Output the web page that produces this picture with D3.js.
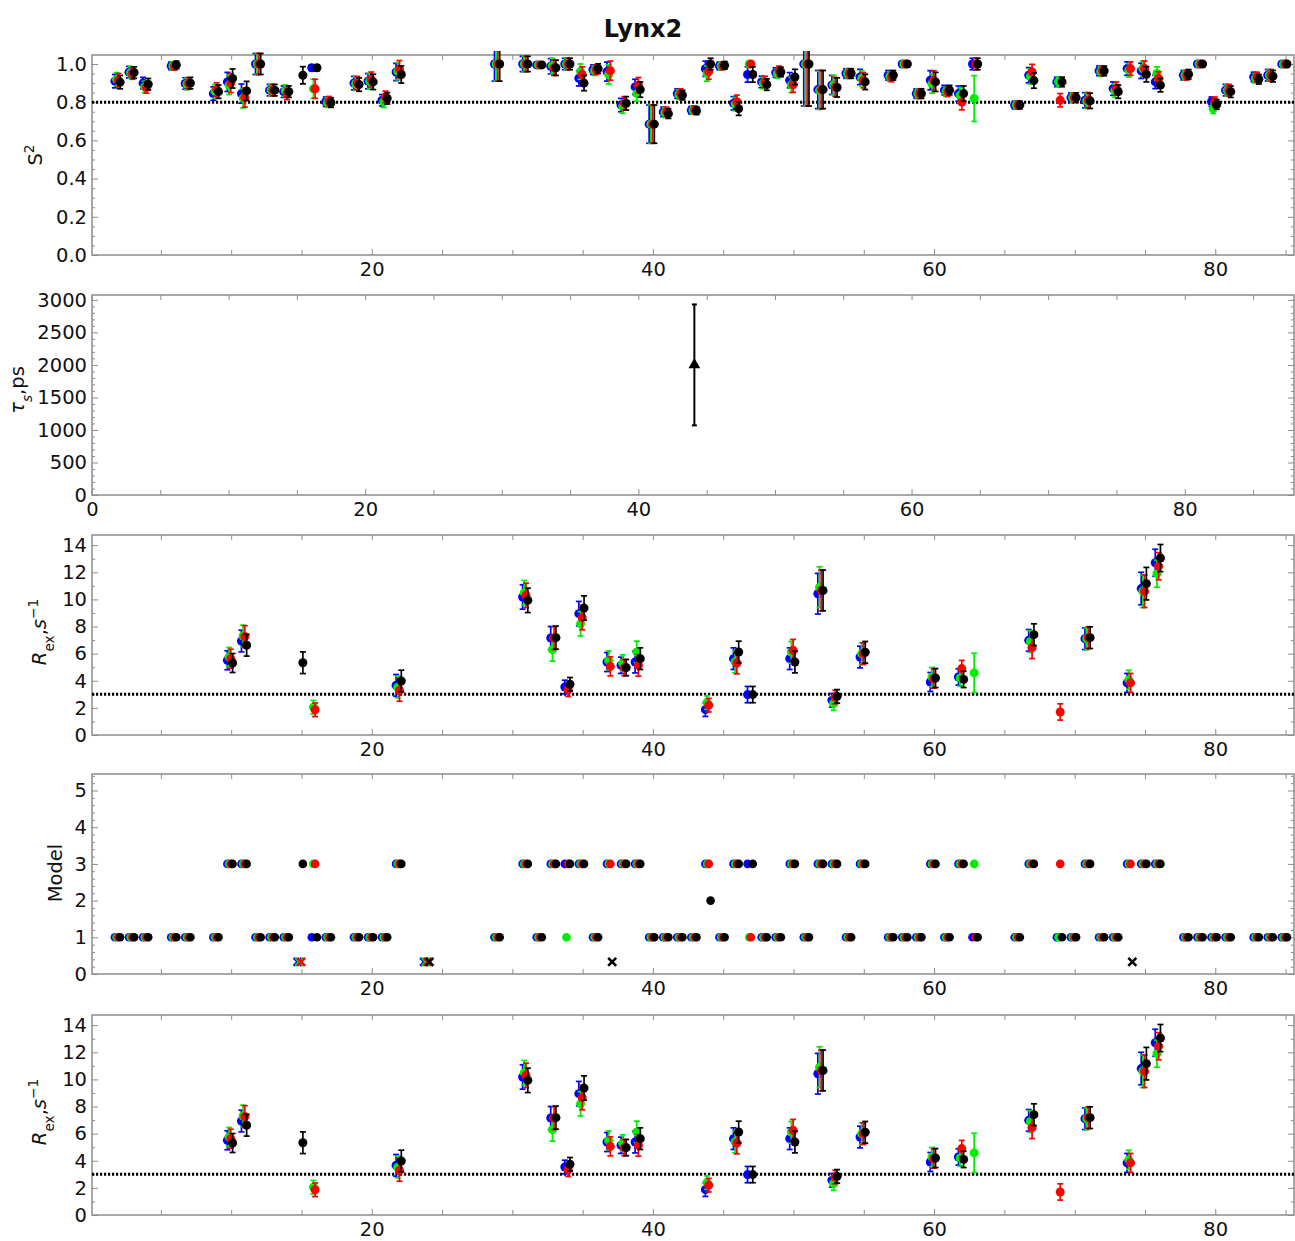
<!DOCTYPE html>
<html>
<head>
<meta charset="utf-8">
<script src="https://cdn.jsdelivr.net/npm/d3@7"></script>
<style>
  body { margin: 0; background: #fff; }
  svg { display: block; }
  text { font-family: "DejaVu Sans", sans-serif; }
</style>
</head>
<body>
<svg id="chart" width="1295" height="1241"></svg>
<script>
// Residue numbers that have a fit in at least one of the four runs
const residues = [2,3,4,6,7,9,10,11,12,13,14,15,16,17,19,20,21,22,24,29,31,32,33,34,35,36,37,38,39,40,41,42,43,44,45,46,47,48,49,50,51,52,53,54,55,57,58,59,60,61,62,63,66,67,69,70,71,72,73,74,75,76,78,79,80,81,83,84,85];

// Order parameter S^2 per run (null = no value)
const s2Blue  = [0.91,0.957,0.90,0.99,0.898,0.845,0.906,0.845,1.0,0.863,0.855,null,0.98,0.802,0.90,0.91,0.81,0.958,null,1.0,1.0,0.995,0.988,1.0,0.925,0.97,0.96,0.785,0.88,0.685,0.749,0.845,0.758,0.975,0.99,0.794,0.945,0.906,0.955,0.915,1.0,0.866,0.89,0.95,0.932,0.941,1.0,0.845,0.915,0.863,0.845,1.0,0.785,0.941,0.906,0.824,0.81,0.964,0.871,0.976,0.964,0.906,0.941,1.0,0.802,0.863,0.932,0.941,1.0];
const s2Green = [0.92,0.955,0.88,0.99,0.895,0.857,0.89,0.82,1.0,0.863,0.86,null,0.87,0.798,0.897,0.91,0.802,0.962,null,1.0,1.0,0.995,0.99,1.0,0.96,0.965,0.945,0.777,0.845,0.685,0.745,0.84,0.758,0.95,0.99,0.79,1.0,0.90,0.95,0.89,1.0,0.862,0.89,0.95,0.925,0.935,1.0,0.845,0.897,0.855,0.836,0.819,0.785,0.935,0.906,0.824,0.807,0.96,0.86,0.967,0.976,0.95,0.941,1.0,0.766,0.863,0.925,0.941,1.0];
const s2Red   = [0.915,0.95,0.877,0.988,0.898,0.866,0.90,0.824,1.0,0.863,0.843,null,0.87,0.805,0.90,0.918,0.828,0.973,null,1.0,1.0,0.995,0.98,1.0,0.945,0.97,0.965,0.794,0.889,0.685,0.749,0.845,0.76,0.96,0.99,0.802,1.0,0.906,0.964,0.892,1.0,0.866,0.88,0.95,0.915,0.932,1.0,0.845,0.915,0.855,0.80,1.0,0.785,0.958,0.81,0.824,0.81,0.964,0.871,0.976,0.976,0.924,0.941,1.0,0.802,0.863,0.932,0.941,1.0];
const s2Black = [0.905,0.955,0.894,0.995,0.90,0.855,0.924,0.859,1.0,0.863,0.855,0.941,0.98,0.798,0.892,0.906,0.82,0.945,null,1.0,1.0,0.995,0.98,1.0,0.90,0.976,null,0.794,0.866,0.685,0.74,0.837,0.755,1.0,0.993,0.766,0.945,0.892,0.958,0.932,1.0,0.866,0.877,0.95,0.906,0.941,1.0,0.845,0.906,0.863,0.845,1.0,0.785,0.913,0.906,0.824,0.807,0.964,0.855,null,0.946,0.889,0.946,1.0,0.788,0.855,0.92,0.936,1.0];

// S^2 uncertainties per run
const s2ErrBlue  = [0.035,0.03,0.03,0.02,0.03,0.035,0.05,0.05,0.055,0.03,0.03,0.045,0.015,0.025,0.035,0.04,0.03,0.045,null,0.09,0.04,0.012,0.04,0.03,0.04,0.025,0.05,0.035,0.04,0.1,0.025,0.025,0.02,0.04,0.02,0.035,0.04,0.03,0.025,0.04,0.22,0.1,0.05,0.025,0.04,0.025,0.01,0.025,0.05,0.025,0.04,0.03,0.02,0.04,0.025,0.025,0.04,0.025,0.035,0.035,0.04,0.035,0.025,0.01,0.025,0.03,0.025,0.03,0.01];
const s2ErrGreen = [0.035,0.03,0.03,0.02,0.03,0.035,0.05,0.05,0.055,0.03,0.03,0.045,0.05,0.025,0.035,0.04,0.03,0.045,null,0.09,0.04,0.012,0.04,0.03,0.04,0.025,0.05,0.035,0.04,0.1,0.025,0.025,0.02,0.04,0.02,0.035,0.01,0.03,0.025,0.04,0.22,0.1,0.05,0.025,0.04,0.025,0.01,0.025,0.05,0.025,0.04,0.12,0.02,0.04,0.025,0.025,0.04,0.025,0.035,0.035,0.04,0.035,0.025,0.01,0.025,0.03,0.025,0.03,0.01];
const s2ErrRed   = [0.035,0.03,0.03,0.02,0.03,0.035,0.05,0.05,0.055,0.03,0.03,0.045,0.05,0.025,0.035,0.04,0.03,0.045,null,0.09,0.04,0.012,0.04,0.03,0.04,0.025,0.05,0.035,0.04,0.1,0.025,0.025,0.02,0.04,0.02,0.035,0.01,0.03,0.025,0.04,0.22,0.1,0.05,0.025,0.04,0.025,0.01,0.025,0.05,0.025,0.04,0.03,0.02,0.04,0.035,0.025,0.04,0.025,0.035,0.035,0.04,0.035,0.025,0.01,0.025,0.03,0.025,0.03,0.01];
const s2ErrBlack = [0.035,0.03,0.03,0.02,0.03,0.035,0.05,0.05,0.055,0.03,0.03,0.045,0.015,0.025,0.035,0.04,0.03,0.045,null,0.09,0.04,0.012,0.04,0.03,0.04,0.025,0.05,0.035,0.04,0.1,0.025,0.025,0.02,0.03,0.02,0.035,0.04,0.03,0.025,0.04,0.22,0.1,0.05,0.025,0.04,0.025,0.01,0.025,0.05,0.025,0.04,0.03,0.02,0.04,0.025,0.025,0.04,0.025,0.035,0.035,0.04,0.035,0.025,0.01,0.025,0.03,0.025,0.03,0.01];

// Internal motion time tau_s (ps), only one residue needs it
const tauResidues = [44];
const tauBlack    = [2000];
const tauErrBlack = [930];

// Exchange contribution R_ex (s^-1)
const rexResidues = [10,11,15,16,22,31,33,34,35,37,38,39,44,46,47,50,52,53,55,60,62,63,67,69,71,74,75,76];
const rexBlue  = [5.51,6.93,null,null,3.66,10.18,7.15,3.54,8.95,5.38,5.14,5.38,1.87,5.63,2.98,5.63,10.42,2.56,5.75,3.91,4.28,null,6.98,null,7.1,3.84,10.8,12.7];
const rexGreen = [5.75,7.3,null,2.05,3.53,10.5,6.3,null,8.2,5.5,5.31,6.12,2.39,5.4,null,6.1,10.9,2.32,6.0,4.28,4.2,4.58,6.9,null,7.1,4.07,10.6,11.9];
const rexRed   = [5.63,7.26,null,1.86,3.29,10.3,7.15,3.34,8.66,5.06,4.97,5.14,2.2,5.31,null,6.25,10.66,2.8,6.0,4.15,4.9,null,6.44,1.7,7.18,3.84,10.6,12.45];
const rexBlack = [5.31,6.62,5.33,null,3.98,9.93,7.18,3.74,9.36,null,4.97,5.63,null,6.12,2.98,5.38,10.66,2.85,6.1,4.2,4.1,null,7.4,null,7.18,null,11.16,13.05];
const rexErr   = [0.7,0.8,0.8,0.5,0.8,0.9,0.85,0.5,0.9,0.7,0.6,0.8,0.5,0.8,0.6,0.8,1.5,0.5,0.8,0.7,0.6,1.45,0.8,0.6,0.8,0.7,1.2,1.0];

// Selected model-free model per run (0 = no acceptable model)
const modelBlue  = [1,1,1,1,1,1, 3,3, 1,1,1, 0, 1, 1,1,1,1, 3, 0, 1, 3, 1, 3, 3, 3, 1, 3, 3, 3, 1,1,1,1, 3, 1, 3, 3, 1, 1, 3, 1, 3, 3, 1, 3, 1,1,1, 3, 1, 3, 1, 1, 3, 1, 1, 3, 1, 1, 3, 3, 3, 1,1,1,1,1,1,1];
const modelGreen = [1,1,1,1,1,1, 3,3, 1,1,1, 0, 3, 1,1,1,1, 3, 0, 1, 3, 1, 3, 1, 3, 1, 3, 3, 3, 1,1,1,1, 3, 1, 3, 1, 1, 1, 3, 1, 3, 3, 1, 3, 1,1,1, 3, 1, 3, 3, 1, 3, 1, 1, 3, 1, 1, 3, 3, 3, 1,1,1,1,1,1,1];
const modelRed   = [1,1,1,1,1,1, 3,3, 1,1,1, 0, 3, 1,1,1,1, 3, 0, 1, 3, 1, 3, 3, 3, 1, 3, 3, 3, 1,1,1,1, 3, 1, 3, 1, 1, 1, 3, 1, 3, 3, 1, 3, 1,1,1, 3, 1, 3, 1, 1, 3, 3, 1, 3, 1, 1, 3, 3, 3, 1,1,1,1,1,1,1];
const modelBlack = [1,1,1,1,1,1, 3,3, 1,1,1, 3, 1, 1,1,1,1, 3, 0, 1, 3, 1, 3, 3, 3, 1, 0, 3, 3, 1,1,1,1, 2, 1, 3, 3, 1, 1, 3, 1, 3, 3, 1, 3, 1,1,1, 3, 1, 3, 1, 1, 3, 1, 1, 3, 1, 1, 0, 3, 3, 1,1,1,1,1,1,1];

// Axis tick values and reference lines
const s2Ticks    = [0, 0.2, 0.4, 0.6, 0.8, 1.0];
const tauTicks   = [0, 500, 1000, 1500, 2000, 2500, 3000];
const rexTicks   = [0, 2, 4, 6, 8, 10, 12, 14];
const modelTicks = [0, 1, 2, 3, 4, 5];
const residueTicks = [20, 40, 60, 80];
const tauResidueTicks = [0, 20, 40, 60, 80];
const s2Cutoff  = 0.8;
const rexCutoff = 3;

// ---------------------------------------------------------------
const svg = d3.select('#chart');
const LEFT = 92, RIGHT = 1294, PH = 200;
const panelTops = [55, 295, 535, 774, 1015];
const FRAME = '#8c8c8c';
const FS = 19.5;

const xRes = d3.scaleLinear().domain([0.1, 85.6]).range([LEFT, RIGHT]);
const xTau = d3.scaleLinear().domain([0, 88]).range([LEFT, RIGHT]);
const yS2 = d3.scaleLinear().domain([0, 1.047]).range([panelTops[0] + PH, panelTops[0]]);
const yTau = d3.scaleLinear().domain([0, 3075]).range([panelTops[1] + PH, panelTops[1]]);
const yRex1 = d3.scaleLinear().domain([0, 14.75]).range([panelTops[2] + PH, panelTops[2]]);
const yModel = d3.scaleLinear().domain([0, 5.45]).range([panelTops[3] + PH, panelTops[3]]);
const yRex2 = d3.scaleLinear().domain([0, 14.75]).range([panelTops[4] + PH, panelTops[4]]);

const runs = [
  { color: '#0000ff', dx: -0.27, s2: s2Blue,  s2Err: s2ErrBlue,  rex: rexBlue,  model: modelBlue },
  { color: '#00ee00', dx: -0.15, s2: s2Green, s2Err: s2ErrGreen, rex: rexGreen, model: modelGreen },
  { color: '#ff0000', dx: -0.03, s2: s2Red,   s2Err: s2ErrRed,   rex: rexRed,   model: modelRed },
  { color: '#000000', dx:  0.10, s2: s2Black, s2Err: s2ErrBlack, rex: rexBlack, model: modelBlack }
];

// clip regions: each plot box, with a little headroom above the frame
const defs = svg.append('defs');
panelTops.forEach((t, i) => {
  defs.append('clipPath').attr('id', 'clip' + i).append('rect')
    .attr('x', LEFT - 10).attr('y', t - 4).attr('width', RIGHT - LEFT + 20).attr('height', PH + 4);
});

function range(a, b, step) {
  const out = [];
  for (let i = Math.round(a / step); i * step <= b + 1e-9; i++) out.push(+(i * step).toFixed(4));
  return out;
}

function styleAxis(g) {
  g.select('.domain').remove();
  g.selectAll('.tick line').attr('stroke', FRAME).attr('stroke-width', 1);
  g.selectAll('.tick text').attr('fill', '#111').attr('font-size', FS)
    .attr('font-family', '"DejaVu Sans", sans-serif');
}

function frameAxes(x, y, o) {
  const [x0, x1] = x.range();
  const [yb, yt] = y.range();
  const g = svg.append('g');
  const xMinor = o.xMinor.filter(v => !o.xMajor.includes(v));
  const yMinor = o.yMinor.filter(v => !o.yMajor.some(m => Math.abs(m - v) < 1e-6));
  // bottom
  g.append('g').attr('transform', `translate(0,${yb})`)
    .call(d3.axisBottom(x).tickValues(o.xMajor).tickSize(-6).tickPadding(7).tickFormat(d3.format('d'))).call(styleAxis);
  g.append('g').attr('transform', `translate(0,${yb})`)
    .call(d3.axisBottom(x).tickValues(xMinor).tickSize(-5).tickFormat('')).call(styleAxis);
  // top
  g.append('g').attr('transform', `translate(0,${yt})`)
    .call(d3.axisTop(x).tickValues(o.xMajor.concat(xMinor)).tickSize(-5).tickFormat('')).call(styleAxis);
  // left
  g.append('g').attr('transform', `translate(${x0},0)`)
    .call(d3.axisLeft(y).tickValues(o.yMajor).tickSize(-6).tickPadding(5).tickFormat(o.yFmt)).call(styleAxis);
  g.append('g').attr('transform', `translate(${x0},0)`)
    .call(d3.axisLeft(y).tickValues(yMinor).tickSize(-3).tickFormat('')).call(styleAxis);
  // right
  g.append('g').attr('transform', `translate(${x1},0)`)
    .call(d3.axisRight(y).tickValues(o.yMajor).tickSize(-6).tickFormat('')).call(styleAxis);
  g.append('g').attr('transform', `translate(${x1},0)`)
    .call(d3.axisRight(y).tickValues(yMinor).tickSize(-3).tickFormat('')).call(styleAxis);
  // frame
  g.append('rect').attr('x', x0).attr('y', yt).attr('width', x1 - x0).attr('height', yb - yt)
    .attr('fill', 'none').attr('stroke', FRAME).attr('stroke-width', 1.5);
}

function cutoffLine(x, y, v) {
  const [x0, x1] = x.range();
  svg.append('line').attr('x1', x0).attr('x2', x1).attr('y1', y(v)).attr('y2', y(v))
    .attr('stroke', '#000').attr('stroke-width', 3).attr('stroke-dasharray', '2.2,1.8');
}

function errorPoints(x, y, xs, vals, errs, color, dx, r, clipId) {
  const pts = xs.map((res, i) => ({ res, v: vals[i], e: errs[i] })).filter(d => d.v != null);
  const g = svg.append('g').attr('clip-path', `url(#${clipId})`);
  const cx = d => x(d.res + dx);
  g.selectAll('line.bar').data(pts).join('line')
    .attr('x1', cx).attr('x2', cx)
    .attr('y1', d => y(d.v - d.e)).attr('y2', d => y(d.v + d.e))
    .attr('stroke', color).attr('stroke-width', 1.7);
  ['lo', 'hi'].forEach(side => {
    g.selectAll('line.cap' + side).data(pts).join('line')
      .attr('x1', d => cx(d) - 3).attr('x2', d => cx(d) + 3)
      .attr('y1', d => y(side === 'lo' ? d.v - d.e : d.v + d.e))
      .attr('y2', d => y(side === 'lo' ? d.v - d.e : d.v + d.e))
      .attr('stroke', color).attr('stroke-width', 1.7);
  });
  g.selectAll('circle').data(pts).join('circle')
    .attr('cx', cx).attr('cy', d => y(d.v)).attr('r', r).attr('fill', color);
}

// ----- Title
svg.append('text').attr('x', 643).attr('y', 37).attr('text-anchor', 'middle')
  .attr('font-size', 24).attr('font-weight', 'bold').attr('fill', '#111').text('Lynx2');

// ----- Panel 1: S^2
frameAxes(xRes, yS2, { xMajor: residueTicks, xMinor: range(5, 85, 5), yMajor: s2Ticks, yMinor: range(0, 1.0, 0.05), yFmt: d3.format('.1f') });
cutoffLine(xRes, yS2, s2Cutoff);
runs.forEach(s => errorPoints(xRes, yS2, residues, s.s2, s.s2Err, s.color, s.dx, 4.5, 'clip0'));

// ----- Panel 2: tau_s
frameAxes(xTau, yTau, { xMajor: tauResidueTicks, xMinor: range(5, 85, 5), yMajor: tauTicks, yMinor: range(0, 3000, 100), yFmt: d3.format('d') });
(function () {
  const g = svg.append('g');
  const pts = tauResidues.map((res, i) => ({ res, v: tauBlack[i], e: tauErrBlack[i] }));
  const cx = d => xTau(d.res + runs[3].dx);
  g.selectAll('line.bar').data(pts).join('line')
    .attr('x1', cx).attr('x2', cx).attr('y1', d => yTau(d.v - d.e)).attr('y2', d => yTau(d.v + d.e))
    .attr('stroke', '#000').attr('stroke-width', 2);
  [-1, 1].forEach(sg => {
    g.selectAll('line.cap' + sg).data(pts).join('line')
      .attr('x1', d => cx(d) - 2.5).attr('x2', d => cx(d) + 2.5)
      .attr('y1', d => yTau(d.v + sg * d.e)).attr('y2', d => yTau(d.v + sg * d.e))
      .attr('stroke', '#000').attr('stroke-width', 2);
  });
  g.selectAll('path').data(pts).join('path')
    .attr('d', d3.symbol(d3.symbolTriangle, 60))
    .attr('transform', d => `translate(${cx(d)},${yTau(d.v)})`).attr('fill', '#000');
})();

// ----- Panel 3 and 5: R_ex
[[yRex1, 'clip2'], [yRex2, 'clip4']].forEach(([yR, clip]) => {
  frameAxes(xRes, yR, { xMajor: residueTicks, xMinor: range(5, 85, 5), yMajor: rexTicks, yMinor: range(0, 14, 1), yFmt: d3.format('d') });
  cutoffLine(xRes, yR, rexCutoff);
  runs.forEach(s => errorPoints(xRes, yR, rexResidues, s.rex, rexErr, s.color, s.dx, 4.5, clip));
});

// ----- Panel 4: selected model
frameAxes(xRes, yModel, { xMajor: residueTicks, xMinor: range(5, 85, 5), yMajor: modelTicks, yMinor: range(0, 5.4, 0.2), yFmt: d3.format('d') });
const noFitLevel = 0.33;
runs.forEach(s => {
  const g = svg.append('g');
  const pts = residues.map((res, i) => ({ res, m: s.model[i] }));
  g.selectAll('circle').data(pts.filter(d => d.m > 0)).join('circle')
    .attr('cx', d => xRes(d.res + s.dx)).attr('cy', d => yModel(d.m)).attr('r', 4.3).attr('fill', s.color);
  g.selectAll('path').data(pts.filter(d => d.m === 0)).join('path')
    .attr('d', 'M-4,-4L4,4M-4,4L4,-4')
    .attr('transform', d => `translate(${xRes(d.res + s.dx)},${yModel(noFitLevel)})`)
    .attr('stroke', s.color).attr('stroke-width', 2.6).attr('fill', 'none');
});

// ----- Axis titles
function yTitle(cx, cy, parts) {
  const t = svg.append('text').attr('transform', `translate(${cx},${cy}) rotate(-90)`)
    .attr('text-anchor', 'middle').attr('font-size', FS).attr('fill', '#111');
  parts.forEach(p => {
    const ts = t.append('tspan').text(p.t);
    if (p.italic) ts.attr('font-style', 'italic');
    if (p.shift) ts.attr('baseline-shift', p.shift).attr('font-size', FS * 0.7);
  });
}
yTitle(42, 155, [{ t: 'S' }, { t: '2', shift: 'super' }]);
yTitle(24, 390, [{ t: 'τ', italic: true }, { t: 's', italic: true, shift: 'sub' }, { t: ',ps' }]);
[632, 1112].forEach(cy => yTitle(46, cy, [{ t: 'R', italic: true }, { t: 'ex', shift: 'sub' }, { t: ',' }, { t: 's', italic: true }, { t: '−1', shift: 'super' }]));
yTitle(62, 873, [{ t: 'Model' }]);
</script>
</body>
</html>
